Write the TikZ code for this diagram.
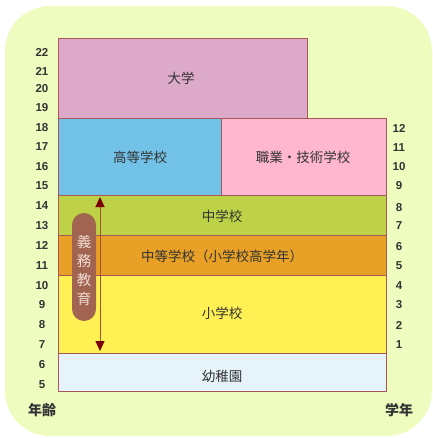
\documentclass[tikz,border=0pt]{standalone}
\usepackage{fontspec}
\setmainfont{Liberation Sans}
\newfontfamily\jp{Noto Sans CJK JP}
\usetikzlibrary{arrows.meta}
\definecolor{bgc}{HTML}{EEFCC0}
\definecolor{daigaku}{HTML}{DDA9C9}
\definecolor{koto}{HTML}{72C1E7}
\definecolor{shoku}{HTML}{FFB7D0}
\definecolor{chu}{HTML}{BDD246}
\definecolor{chuto}{HTML}{E8A126}
\definecolor{sho}{HTML}{FFF153}
\definecolor{yochi}{HTML}{E6F3FA}
\definecolor{edge}{HTML}{A85858}
\definecolor{txt}{HTML}{333333}
\definecolor{pill}{HTML}{A06450}
\definecolor{pilltxt}{HTML}{F2DCD2}
\definecolor{arrline}{HTML}{A8502A}
\definecolor{arrhead}{HTML}{7A0000}
\begin{document}
\begin{tikzpicture}[x=1pt,y=-1pt,
  band/.style={draw=edge,line width=0.8pt},
  lab/.style={font=\jp\fontsize{13.5}{14}\selectfont,text=txt,inner sep=0pt},
  num/.style={font=\bfseries\fontsize{11.5}{11.5}\selectfont,text=txt,inner sep=0pt},
  axis/.style={font=\jp\bfseries\fontsize{14}{14}\selectfont,text=txt,inner sep=0pt}]
\useasboundingbox (0,0) rectangle (432,438);
\fill[bgc,rounded corners=45pt] (5,6) rectangle (432,436);
% boxes
\draw[band,fill=daigaku] (58,38) rectangle (307,118);
\draw[band,fill=koto] (58,118) rectangle (221,195);
\draw[band,fill=shoku] (221,118) rectangle (386,195);
\draw[band,fill=chu] (58,195) rectangle (386,235);
\draw[band,fill=chuto] (58,235) rectangle (386,275);
\draw[band,fill=sho] (58,275) rectangle (386,353);
\draw[band,fill=yochi] (58,353) rectangle (386,391);
% labels
\node[lab] (tdai) at (181,78) {大学};
\node[lab] (tkoto) at (140,157) {高等学校};
\node[lab] (tshoku) at (303,157) {職業・技術学校};
\node[lab] (tchu) at (222,216) {中学校};
\node[lab] (tchuto) at (222,256) {中等学校（小学校高学年）};
\node[lab] (tsho) at (222,313) {小学校};
\node[lab] (tyochi) at (222,376) {幼稚園};
% arrow
\coordinate (atop) at (100,197);
\coordinate (abot) at (100,351);
\draw[arrline,line width=0.9pt,{Triangle[length=10pt,width=9pt,color=arrhead]}-{Triangle[length=10pt,width=9pt,color=arrhead]}] (atop) -- (abot);
% pill
\fill[pill,rounded corners=12pt] (72,213) rectangle (96,321);
\node[font=\jp\fontsize{14.5}{19}\selectfont,text=pilltxt,align=center,inner sep=0pt] (gimu) at (84,270) {義\\務\\教\\育};
% age numbers
\foreach \a/\y in {22/52,21/71,20/89,19/108,18/128,17/147,16/167,15/186,14/206,13/226,12/245,11/266,10/286,9/305,8/325,7/345,6/365,5/385}
  \node[num] (age\a) at (42,\y) {\a};
\node[axis] (nenrei) at (42,410) {年齢};
% grade numbers
\foreach \g/\y in {12/128,11/148,10/167,9/186,8/208,7/226,6/247,5/266,4/286,3/305,2/325,1/345}
  \node[num] (gr\g) at (399,\y) {\g};
\node[axis] (gakunen) at (399,410) {学年};
\end{tikzpicture}
\end{document}
